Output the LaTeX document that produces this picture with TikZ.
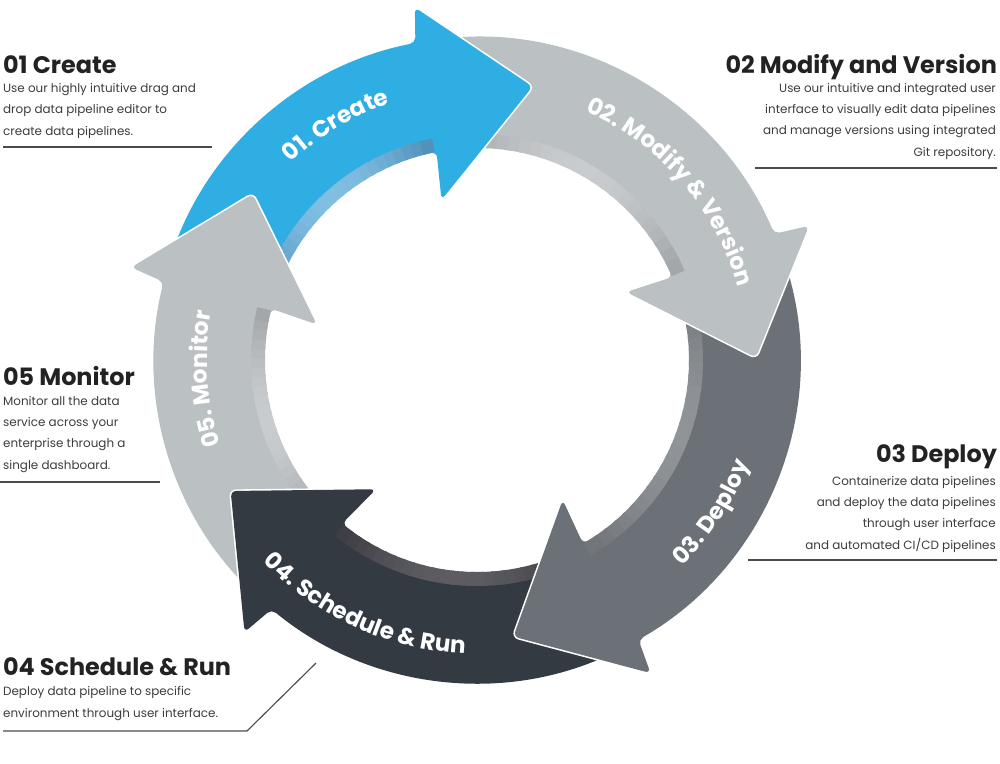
\documentclass[tikz,border=0pt]{standalone}
\usepackage{fontspec}
\setmainfont{Poppins}
\newcommand\steplabelfont{\fontsize{33}{40}\selectfont\bfseries}
\usetikzlibrary{decorations.text}

\definecolor{createblue}{HTML}{2EAEE3}
\definecolor{createside}{HTML}{4F8EB8}
\definecolor{createshine}{HTML}{80BEE2}
\definecolor{lightstep}{HTML}{BBC0C2}
\definecolor{lightside}{HTML}{A0A4A7}
\definecolor{lightshine}{HTML}{C9CCCE}
\definecolor{midstep}{HTML}{6B7177}
\definecolor{midside}{HTML}{707479}
\definecolor{midshine}{HTML}{909397}
\definecolor{darkstep}{HTML}{343A42}
\definecolor{darkside}{HTML}{3C3C42}
\definecolor{darkshine}{HTML}{5C5C62}
\definecolor{titleink}{HTML}{222222}
\definecolor{blurbink}{HTML}{3C3C3C}
\definecolor{ruleink}{HTML}{4A4A4A}

\begin{document}
\begin{tikzpicture}[x=0.05cm, y=0.05cm,
        title/.style={font=\fontsize{34}{40}\selectfont\bfseries, text=titleink, inner sep=0pt},
        blurb/.style={font=\fontsize{17}{30}\selectfont, text=blurbink, inner sep=0pt},
        steplabel/.style={decorate, decoration={text along path, text align=center, text color=white, text={|\steplabelfont|#1}}},
        underline/.style={draw=ruleink, line width=1.6pt}]
    \useasboundingbox (0,0) rectangle (1000,-763);

    \def\rs{212}
    \def\ri{226}
    \def\ro{323}
    \def\bi{164}
    \def\bo{358}
    \def\rt{279}

    % #1 face, #2 side, #3 side highlight, #4 tail angle, #5 head angle
    \def\ringarrow#1#2#3#4#5{
        \path[fill=#1, preaction={draw=white, line width=4.5pt}, line join=round, rounded corners=8pt]
            (#4:\ro) arc[start angle=#4, end angle=#5, radius=\ro]
            -- ({#5-1}:\bo) -- ({#5-22.5}:\rt) -- ({#5+1.5}:\bi) -- (#5:\rs)
            arc[start angle=#5, end angle=#4, radius=\rs] -- cycle;
        \foreach \k in {0,...,23} {
            \pgfmathsetmacro\sa{#4+(#5+1.2-#4)*\k/24}
            \pgfmathsetmacro\sb{#4+(#5+1.2-#4)*(\k+1.3)/24}
            \pgfmathsetmacro\sp{round(100*sin(180*(\k+0.5)/24))}
            \fill[#3!\sp!#2] (\sa:\rs) arc[start angle=\sa, end angle=\sb, radius=\rs]
                -- (\sb:\ri) arc[start angle=\sb, end angle=\sa, radius=\ri] -- cycle;
        }
    }

    \begin{scope}[shift={(477,-360)}]
        \ringarrow{lightstep}{lightside}{lightshine}{-133.5}{-194}
        \ringarrow{darkstep}{darkside}{darkshine}{-64}{-129.5}
        \ringarrow{midstep}{midside}{midshine}{19}{-60}
        \ringarrow{lightstep}{lightside}{lightshine}{97}{23}
        \ringarrow{createblue}{createside}{createshine}{162}{101}
        \begin{scope}
            \clip (0,0) -- (130:420) arc[start angle=130, end angle=172, radius=420] -- cycle;
            \ringarrow{lightstep}{lightside}{lightshine}{-133.5}{-194}
        \end{scope}

        \path[steplabel={01. Create}] (151:271) arc[start angle=151, end angle=91, radius=271];
        \path[steplabel={02. Modify {\&} Version}] (76:271) arc[start angle=76, end angle=6, radius=271];
        \path[steplabel={03. Deploy}] (-63:291) arc[start angle=-63, end angle=-3, radius=291];
        \path[steplabel={04. Schedule {\&} Run}] (210:294) arc[start angle=210, end angle=281, radius=294];
        \path[steplabel={05. Monitor}] (214:270) arc[start angle=214, end angle=154, radius=270];
    \end{scope}

    \node[title, anchor=base west] (tcreate) at (3,-73) {01 Create};
    \node[blurb, anchor=base west, align=left] (bcreate) at (3,-135)
        {Use our highly intuitive drag and\\drop data pipeline editor to\\create data pipelines.};
    \draw[underline] (3,-147) -- (212,-147);

    \node[title, anchor=base east] (tmodify) at (997,-73) {02 Modify and Version};
    \node[blurb, anchor=base east, align=right] (bmodify) at (996,-156)
        {Use our intuitive and integrated user\\interface to visually edit data pipelines\\and manage versions using integrated\\Git repository.};
    \draw[underline] (755,-168) -- (997,-168);

    \node[title, anchor=base east] (tdeploy) at (997,-462) {03 Deploy};
    \node[blurb, anchor=base east, align=right] (bdeploy) at (996,-549)
        {Containerize data pipelines\\and deploy the data pipelines\\through user interface\\and automated CI/CD pipelines};
    \draw[underline] (748,-560) -- (997,-560);

    \node[title, anchor=base west] (tschedule) at (3,-675) {04 Schedule \& Run};
    \node[blurb, anchor=base west, align=left] (bschedule) at (3,-717)
        {Deploy data pipeline to specific\\environment through user interface.};
    \draw[underline] (3,-731) -- (247,-731) -- (316,-663);

    \node[title, anchor=base west] (tmonitor) at (3,-385) {05 Monitor};
    \node[blurb, anchor=base west, align=left] (bmonitor) at (3,-469)
        {Monitor all the data\\service across your\\enterprise through a\\single dashboard.};
    \draw[underline] (0,-482) -- (160,-482);
\end{tikzpicture}
\end{document}
